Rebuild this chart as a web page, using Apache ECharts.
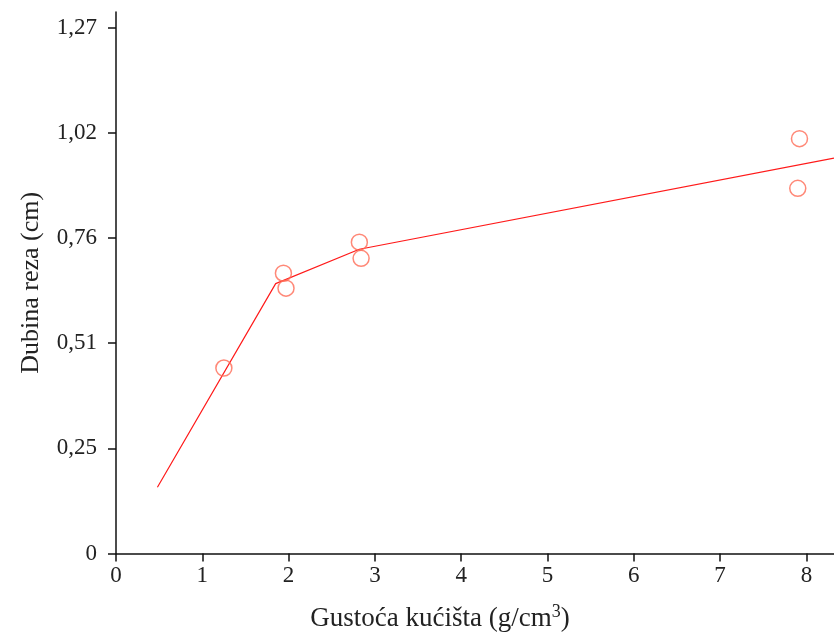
<!DOCTYPE html>
<html>
<head>
<meta charset="utf-8">
<script src="https://cdn.jsdelivr.net/npm/echarts@6/dist/echarts.min.js"></script>
<style>html,body{margin:0;padding:0;background:#fff;}#c{width:834px;height:637px;}</style>
</head>
<body>
<div id="c"></div>
<script>
const xTicks = [0, 1, 2, 3, 4, 5, 6, 7, 8];
const yTicks = [0, 0.254, 0.508, 0.762, 1.016, 1.27];
const measuredPoints = [
  [1.25, 0.448], [1.94, 0.677], [1.97, 0.641],
  [2.82, 0.752], [2.84, 0.713], [7.92, 1.002], [7.90, 0.882]
];
const fitLine = [[0.48, 0.16], [1.85, 0.652], [2.82, 0.735], [8.32, 0.955]];

const chart = echarts.init(document.getElementById('c'), null, {renderer: 'canvas'});
const font = 'Liberation Serif';
chart.setOption({
  animation: false,
  backgroundColor: '#fff',
  grid: {left: 116, right: 0, top: 12, bottom: 82, containLabel: false},
  xAxis: {
    type: 'value', min: 0, max: 8.32,
    name: 'Gustoća kućišta (g/cm{sup|3})', nameLocation: 'middle', nameGap: 50,
    nameTextStyle: {fontFamily: font, fontSize: 27, color: '#222', padding: [0, 70, 0, 0],
      rich: {sup: {fontFamily: font, fontSize: 18, color: '#222', verticalAlign: 'top', padding: [0, 0, 12, 0]}}},
    axisLine: {show: true, onZero: false, lineStyle: {color: '#111', width: 1.5}},
    axisTick: {show: true, length: 8, customValues: xTicks, lineStyle: {color: '#111', width: 1.5}},
    axisLabel: {customValues: xTicks, margin: 11, fontFamily: font, fontSize: 23, color: '#222'},
    splitLine: {show: false}
  },
  yAxis: {
    type: 'value', min: 0, max: 1.308,
    name: 'Dubina reza (cm)', nameLocation: 'middle', nameGap: 72,
    nameTextStyle: {fontFamily: font, fontSize: 26, color: '#222'},
    axisLine: {show: true, onZero: false, lineStyle: {color: '#111', width: 1.5}},
    axisTick: {show: true, length: 8, customValues: yTicks, lineStyle: {color: '#111', width: 1.5}},
    axisLabel: {customValues: yTicks, margin: 19, fontFamily: font, fontSize: 23, color: '#222',
      formatter: v => v === 0 ? '0' : v.toFixed(2).replace('.', ',')},
    splitLine: {show: false}
  },
  series: [
    {
      type: 'line', data: fitLine, symbol: 'none', smooth: false,
      lineStyle: {color: '#ff1a1a', width: 1.2}, z: 2
    },
    {
      type: 'scatter', data: measuredPoints, symbol: 'circle', symbolSize: 16,
      itemStyle: {color: 'rgba(255,255,255,0)', borderColor: '#ff6a55', borderWidth: 1.5}, z: 3
    }
  ]
});
</script>
</body>
</html>
